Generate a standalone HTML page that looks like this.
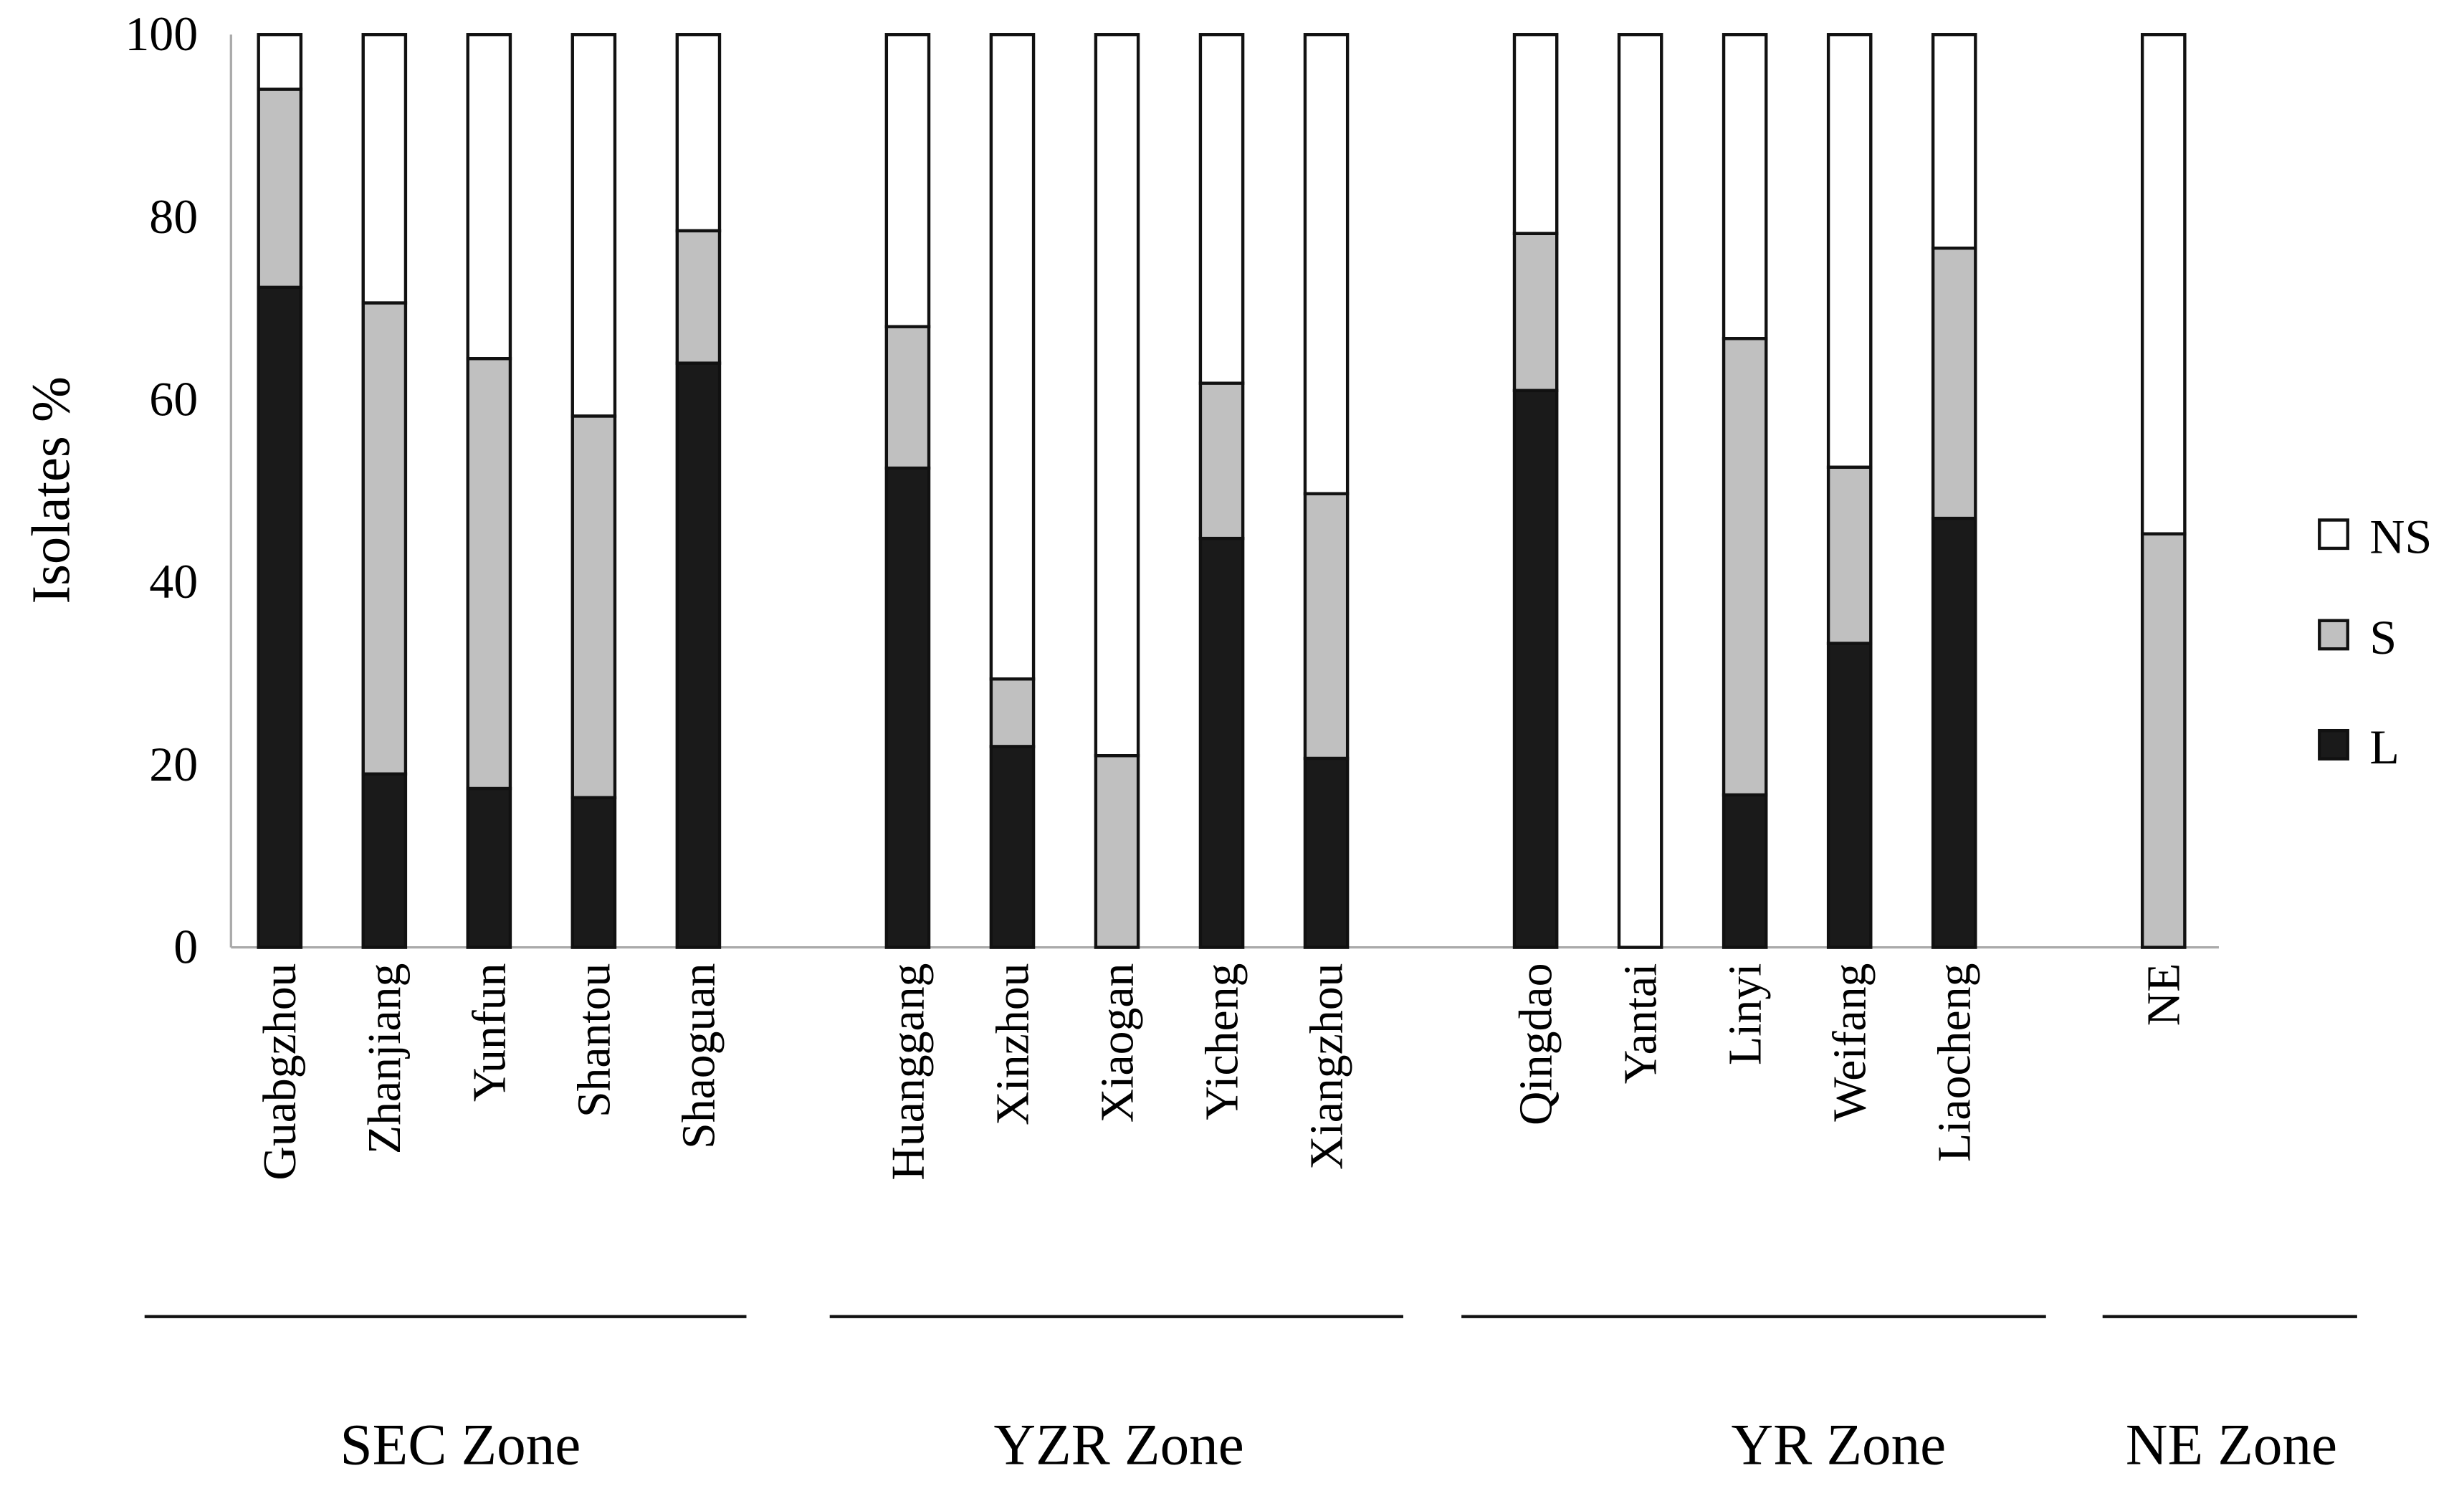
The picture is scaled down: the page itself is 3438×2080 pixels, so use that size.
<!DOCTYPE html>
<html><head><meta charset="utf-8"><style>
html,body{margin:0;padding:0;background:#fff;}
svg{display:block;}
text{font-family:"Liberation Serif",serif;fill:#000;}
</style></head><body>
<svg id="chart" width="3438" height="2080" viewBox="0 0 1568 949" preserveAspectRatio="none" xmlns="http://www.w3.org/2000/svg"></svg>
<script>
const categories=["Guabgzhou","Zhanjiang","Yunfun","Shantou","Shaoguan","Huanggang","Xinzhou","Xiaogan","Yicheng","Xiangzhou","Qingdao","Yantai","Linyi","Weifang","Liaocheng","NE"];
const lValues=[72.3,19,17.4,16.4,64,52.5,22,0,44.8,20.7,61,0,16.7,33.3,47,0];
const sValues=[21.7,51.6,47.1,41.8,14.5,15.5,7.4,21,17,29,17.2,0,50,19.3,29.6,45.3];
const slotIndex=[0,1,2,3,4,6,7,8,9,10,12,13,14,15,16,18];
const yTicks=[0,20,40,60,80,100];
const zones=["SEC Zone","YZR Zone","YR Zone","NE Zone"];
const legendLabels=["NS","S","L"];

const svg=document.getElementById('chart');
const NS="http://www.w3.org/2000/svg";
function mk(tag,attrs,parent){const e=document.createElementNS(NS,tag);for(const k in attrs)e.setAttribute(k,attrs[k]);(parent||svg).appendChild(e);return e;}
const y0=603,y1=22;
function yScale(v){return y0-(y0-y1)*v/100;}
function xScale(slot){return 178+slot*66.6;}
const bw=27;

const ax=mk('line',{x1:147,y1:y1,x2:147,y2:y0,stroke:'#aaa','stroke-width':1.5});


const bx=mk('line',{x1:147,y1:y0,x2:1412,y2:y0,stroke:'#aaa','stroke-width':1.5});


yTicks.forEach(t=>{
  const tl=mk('text',{x:126,y:yScale(t)+10,'text-anchor':'end','font-size':31});
  tl.textContent=t;
  
  
});
const yt=mk('text',{x:0,y:0,'font-size':35,'text-anchor':'middle',transform:'translate(44,312) rotate(-90)'});
yt.textContent='Isolates %';



categories.forEach((c,i)=>{
  const cx=xScale(slotIndex[i]);const x=cx-bw/2;
  const l=lValues[i],s=sValues[i];
  const g=mk('g',{});
  
  
  const ns=mk('rect',{x:x,y:yScale(100),width:bw,height:yScale(l+s)-yScale(100),fill:'#fff',stroke:'#111','stroke-width':2},g);
  
  
  if(s>0){const r=mk('rect',{x:x,y:yScale(l+s),width:bw,height:yScale(l)-yScale(l+s),fill:'#c0c0c0',stroke:'#111','stroke-width':2},g);
    
    }
  if(l>0){const r=mk('rect',{x:x,y:yScale(l),width:bw,height:yScale(0)-yScale(l),fill:'#1a1a1a',stroke:'#111','stroke-width':2},g);
    
    }
  const t=mk('text',{x:0,y:0,'font-size':30,'text-anchor':'end',transform:'translate('+(cx+10)+',613) rotate(-90)'});
  t.textContent=c;
  
  
});

const zoneLines=[[92,475],[528,893],[930,1302],[1338,1500]];
const zoneX=[293,712,1170,1420];
zones.forEach((z,i)=>{
  const ln=mk('line',{x1:zoneLines[i][0],y1:838,x2:zoneLines[i][1],y2:838,stroke:'#111','stroke-width':2});
  
  
  const t=mk('text',{x:zoneX[i],y:932,'font-size':37,'text-anchor':'middle'});
  t.textContent=z;
  
  
});

const legFill=['#fff','#c0c0c0','#1a1a1a'];
const legY=[341,405,475];
legendLabels.forEach((lab,i)=>{
  const r=mk('rect',{x:1476,y:legY[i]-10,width:18,height:18,fill:legFill[i],stroke:'#111','stroke-width':2});
  
  
  const t=mk('text',{x:1508,y:legY[i]+11,'font-size':31});
  t.textContent=lab;
  
  
});
</script>
</body></html>
